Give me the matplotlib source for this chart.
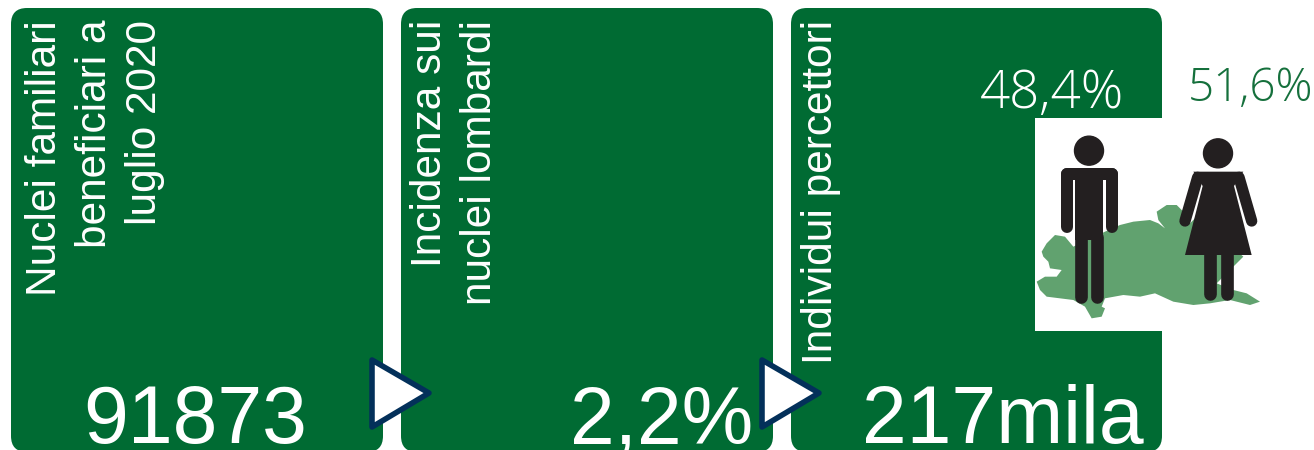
#!/usr/bin/env python3

import matplotlib
matplotlib.use('Agg')
import matplotlib.pyplot as plt
from matplotlib.patches import FancyBboxPatch, Polygon, Circle, Rectangle

# card contents
titles = ['Nuclei familiari\nbeneficiari a\nluglio 2020', 'Incidenza sui\nnuclei lombardi', 'Individui percettori']
values = ['91873', '2,2%', '217mila']
shares = ['48,4%', '51,6%']

GREEN = '#006b33'
NAVY = '#03305a'
DARK = '#231f20'
MAP = '#61a26f'

# outline of Lombardia, in the coordinates of the zoomed icon
mapX = [20, 45, 80, 95, 60, 55, 40, 35, 50, 75, 105, 130, 225, 270, 310, 360, 385, 405, 385, 380, 410, 440, 470, 480, 500, 640, 560, 610, 650, 690, 660, 600, 540, 490, 430, 375, 330, 280, 225, 215, 225, 215, 185, 165, 130, 90, 50, 30]
mapY = [665, 650, 650, 630, 625, 605, 590, 575, 550, 525, 530, 560, 515, 495, 485, 480, 490, 505, 480, 455, 435, 435, 465, 490, 470, 590, 670, 690, 700, 725, 735, 720, 730, 735, 725, 700, 710, 705, 715, 740, 745, 770, 775, 740, 720, 715, 710, 690]


def iconXY(x, y):
    # icon crop starts at (1030, 60) and was scaled 3x
    return 1030 + x / 3, 60 + y / 3


def limb(axis, start, end, width):
    x0, y0 = iconXY(*start)
    x1, y1 = iconXY(*end)
    axis.plot([x0, x1], [y0, y1], color=DARK, lw=width / 3 * 0.72, solid_capstyle='round', zorder=5)


def person(axis, woman=False):
    if woman:
        head = iconXY(564, 280)
        axis.add_patch(Circle(head, 14.5, color=DARK, zorder=5))
        dress = [iconXY(*p) for p in [(490, 335), (640, 335), (612, 378), (665, 585), (465, 585), (518, 378)]]
        axis.add_patch(Polygon(dress, closed=True, color=DARK, lw=0, zorder=5))
        limb(axis, (503, 352), (465, 483), 34)
        limb(axis, (627, 352), (665, 483), 34)
        limb(axis, (540, 580), (540, 702), 38)
        limb(axis, (590, 580), (590, 702), 38)
    else:
        head = iconXY(177, 272)
        axis.add_patch(Circle(head, 14.5, color=DARK, zorder=5))
        x0, y0 = iconXY(135, 340)
        x1, y1 = iconXY(220, 540)
        axis.add_patch(Rectangle((x0, y0), x1 - x0, y1 - y0, color=DARK, lw=0, zorder=5))
        limb(axis, (110, 343), (245, 343), 36)
        limb(axis, (110, 343), (110, 500), 36)
        limb(axis, (245, 343), (245, 500), 36)
        limb(axis, (153, 530), (153, 712), 38)
        limb(axis, (202, 530), (202, 712), 38)


fig = plt.figure(figsize=(13.14, 4.5), dpi=100)
axis = fig.add_axes([0, 0, 1, 1])
axis.set_xlim(0, 1314)
axis.set_ylim(450, 0)
axis.axis('off')

# the three green cards, the bottom is cut by the picture edge
cardLeft = [11, 401, 791]
cardWidth = [372, 372, 371]
for left, width in zip(cardLeft, cardWidth):
    axis.add_patch(FancyBboxPatch((left + 16, 24), width - 32, 452 - 8 - 32, boxstyle='round,pad=16,rounding_size=16',
                                  fc=GREEN, ec='none', zorder=1))

# white box behind the icon
axis.add_patch(Rectangle((1035, 118), 128, 213, color='white', lw=0, zorder=2))

mapPts = [iconXY(x, y) for x, y in zip(mapX, mapY)]
axis.add_patch(Polygon(mapPts, closed=True, fc=MAP, ec='none', zorder=3))
person(axis)
person(axis, woman=True)

# titles, rotated and aligned at the top of the card
titleCenter = [95, 455, 821]
for title, center in zip(titles, titleCenter):
    axis.text(center, 20, title, rotation=90, color='white', family='Liberation Sans', fontsize=30.5,
              ha='center', va='top', ma='right', linespacing=1.33, zorder=4)

# big numbers
valueX = [195, 662, 1003]
for value, x in zip(values, valueX):
    axis.text(x, 443, value, color='white', family='Liberation Sans', fontsize=58, ha='center', va='baseline', zorder=4)

axis.text(1052, 108, shares[0], color='white', family='Open Sans', weight='light', fontsize=38, ha='center', va='baseline', zorder=4)
axis.text(1251, 101, shares[1], color='#15703c', family='Open Sans', weight='light', fontsize=33, ha='center', va='baseline', zorder=4)

# arrows between the cards
arrowLeft = [372, 762]
for left in arrowLeft:
    axis.add_patch(Polygon([(left, 360), (left + 57, 393), (left, 427)], closed=True, fc='white', ec=NAVY, lw=4,
                           joinstyle='round', zorder=6))

fig.savefig('out.png', dpi=100)
plt.close(fig)
